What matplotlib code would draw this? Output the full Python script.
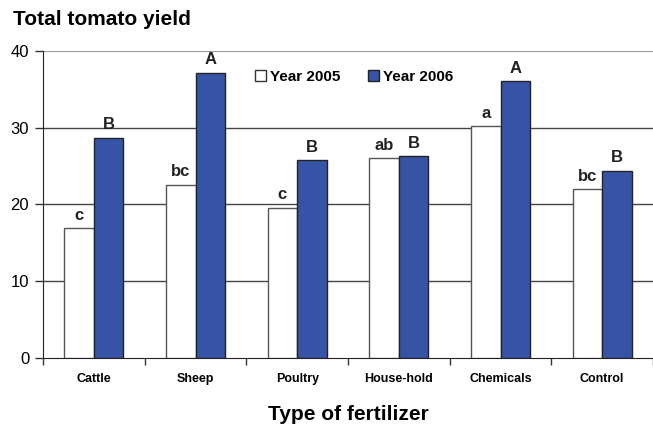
import numpy as np
import matplotlib.pyplot as plt
from matplotlib.patches import Patch

plt.rcParams['font.family'] = ['Liberation Sans', 'DejaVu Sans']

categories = ['Cattle', 'Sheep', 'Poultry', 'House-hold', 'Chemicals', 'Control']
yield_2005 = [16.9, 22.6, 19.6, 26.0, 30.2, 22.0]
yield_2006 = [28.7, 37.2, 25.8, 26.3, 36.1, 24.4]
letters_2005 = ['c', 'bc', 'c', 'ab', 'a', 'bc']
letters_2006 = ['B', 'A', 'B', 'B', 'A', 'B']

blue = '#3753a5'

fig = plt.figure(figsize=(6.53, 4.26), dpi=100)
ax = fig.add_axes([0.066, 0.16, 0.934, 0.72])

x = np.arange(len(categories))
w = 0.29
ax.bar(x - w / 2, yield_2005, w, color='white', edgecolor='#555555', linewidth=1.0, zorder=3)
ax.bar(x + w / 2, yield_2006, w, color=blue, edgecolor='#222222', linewidth=1.0, zorder=3)

# significance letters above the bars
for i in range(len(categories)):
    ax.text(x[i] - w / 2, yield_2005[i] + 0.7, letters_2005[i], ha='center', va='bottom',
            fontsize=12, fontweight='bold', color='#222222')
    ax.text(x[i] + w / 2, yield_2006[i] + 0.7, letters_2006[i], ha='center', va='bottom',
            fontsize=12, fontweight='bold', color='#222222')

ax.set_xlim(-0.5, len(categories) - 0.5)
ax.set_ylim(0, 40)
ax.set_yticks([0, 10, 20, 30, 40])
ax.set_yticklabels(['0', '10', '20', '30', '40'], fontsize=12)
ax.tick_params(axis='y', direction='out', length=6, width=1, color='#333333', pad=4)
for yv in [10, 20, 30]:
    ax.axhline(yv, color='#444444', linewidth=1.0, zorder=1)
ax.axhline(40, color='#999999', linewidth=1.5, zorder=1)

ax.set_xticks(np.arange(len(categories) + 1) - 0.5)
ax.set_xticklabels([])
ax.tick_params(axis='x', direction='out', length=5, width=1, color='#333333')
ax.set_xticks(x, minor=True)
ax.set_xticklabels(categories, minor=True, fontsize=9, fontweight='bold')
ax.tick_params(axis='x', which='minor', length=0, pad=11)

for s in ['top', 'right']:
    ax.spines[s].set_visible(False)
ax.spines['left'].set_color('#222222')
ax.spines['bottom'].set_color('#222222')

handles = [Patch(facecolor='white', edgecolor='#333333', label='Year 2005'),
           Patch(facecolor=blue, edgecolor='#222222', label='Year 2006')]
ax.legend(handles=handles, ncol=2, frameon=False, loc='center left',
          bbox_to_anchor=(0.325, 0.915), prop={'size': 11, 'weight': 'bold'},
          handlelength=0.7, handleheight=0.7, handletextpad=0.3, columnspacing=1.8)

fig.text(0.02, 0.955, 'Total tomato yield', fontsize=15, fontweight='bold', ha='left', va='center')
fig.text(0.533, 0.028, 'Type of fertilizer', fontsize=15, fontweight='bold', ha='center', va='center')

fig.savefig('out.png', dpi=100)
